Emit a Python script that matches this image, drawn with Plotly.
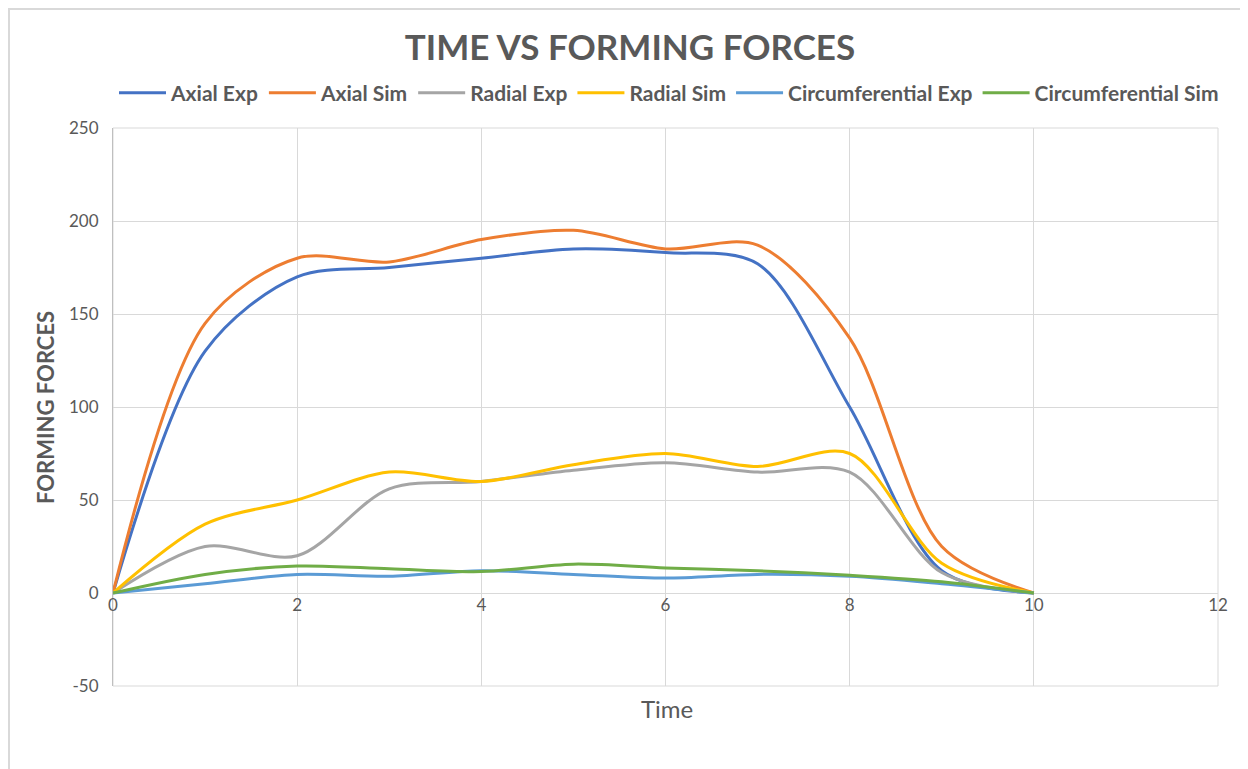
import plotly.graph_objects as go

time = [0, 1, 2, 3, 4, 5, 6, 7, 8, 9, 10]

axial_exp = [0, 130, 170, 175, 180, 185, 183, 177, 100, 12, 0]
axial_sim = [0, 145, 180, 178, 190, 195, 185, 187, 137, 25, 0]
radial_exp = [0, 25, 20, 56, 60, 66, 70, 65, 65, 11, 0]
radial_sim = [0, 37, 50, 65, 60, 69, 75, 68, 75, 16, 0]
circ_exp = [0, 5, 10, 9, 12, 10, 8, 10, 9, 5, 0]
circ_sim = [0, 10, 14.5, 13, 11.5, 15.5, 13.5, 12, 9.5, 6, 0]

y_ticks = [-50, 0, 50, 100, 150, 200, 250]
y_labels = ['-50', '0', '50', '100', '150', '200', '250']

series = [
    ('Axial Exp', axial_exp, '#4472C4'),
    ('Axial Sim', axial_sim, '#ED7D31'),
    ('Radial Exp', radial_exp, '#A5A5A5'),
    ('Radial Sim', radial_sim, '#FFC000'),
    ('Circumferential Exp', circ_exp, '#5B9BD5'),
    ('Circumferential Sim', circ_sim, '#70AD47'),
]

font = 'Lato'
grey = '#595959'

fig = go.Figure()
for name, vals, color in series:
    fig.add_trace(
        go.Scatter(
            x=time,
            y=vals,
            mode='lines',
            name=name,
            line=dict(color=color, width=3, shape='spline', smoothing=0.9),
        )
    )

# page has an 8px body margin, so figure origin sits at (8, 8) on screen
OFF = 8
W, H = 1240, 761
L, R, T, B = 113 - OFF, 1218 - OFF, 128 - OFF, 686 - OFF
pw, ph = R - L, B - T


def px(x):
    return (x - OFF - L) / pw


def py(y):
    return (B - (y - OFF)) / ph


fig.update_layout(
    width=W,
    height=H,
    margin=dict(l=L, r=W - R, t=T, b=H - B),
    paper_bgcolor='white',
    plot_bgcolor='white',
    font=dict(family=font, color=grey),
    title=dict(
        text='<b>TIME VS FORMING FORCES</b>',
        x=(630 - OFF) / W, xanchor='center',
        y=1 - (48 - OFF) / H, yanchor='middle',
        font=dict(size=35, color=grey, family=font),
    ),
    # anchored just right of the plot area so the row may use the right margin too
    legend=dict(
        orientation='h',
        x=px(1224), xanchor='right',
        y=py(93), yanchor='middle',
        font=dict(size=21, color=grey, family=font, weight='bold'),
        itemwidth=47,
    ),
    xaxis=dict(
        range=[0, 12],
        dtick=2,
        showgrid=True,
        gridcolor='#D9D9D9',
        gridwidth=1,
        zeroline=False,
        showline=False,
        anchor='free',
        position=50 / 300,
        ticks='',
        tickfont=dict(size=17, color=grey),
    ),
    yaxis=dict(
        range=[-50, 250],
        tickvals=y_ticks,
        ticktext=y_labels,
        showgrid=True,
        gridcolor='#D9D9D9',
        gridwidth=1,
        zeroline=True,
        zerolinecolor='#D9D9D9',
        zerolinewidth=1,
        showline=True,
        linecolor='#BFBFBF',
        linewidth=1,
        ticks='',
        ticklabelstandoff=10,
        tickfont=dict(size=17, color=grey),
    ),
    annotations=[
        dict(
            text='Time',
            xref='paper', yref='paper',
            x=px(667), y=py(708),
            xanchor='center', yanchor='middle',
            showarrow=False,
            font=dict(size=24, color=grey, family=font),
        ),
        dict(
            text='FORMING FORCES',
            xref='paper', yref='paper',
            x=px(45), y=py(408),
            xanchor='center', yanchor='middle',
            textangle=-90,
            showarrow=False,
            font=dict(size=22, color=grey, family=font, weight='bold'),
        ),
    ],
    shapes=[
        # chart area border
        dict(
            type='rect',
            xref='paper', yref='paper',
            x0=px(OFF + 1), x1=px(W + 40),
            y0=py(H + 40), y1=py(OFF + 1),
            line=dict(color='#D9D9D9', width=2),
            fillcolor='rgba(0,0,0,0)',
            layer='below',
        ),
        # plot area outline (edge gridlines)
        dict(
            type='rect',
            xref='paper', yref='paper',
            x0=0, x1=1, y0=0, y1=1,
            line=dict(color='#D9D9D9', width=1),
            fillcolor='rgba(0,0,0,0)',
            layer='below',
        ),
    ],
)

fig.write_html("out.html")
